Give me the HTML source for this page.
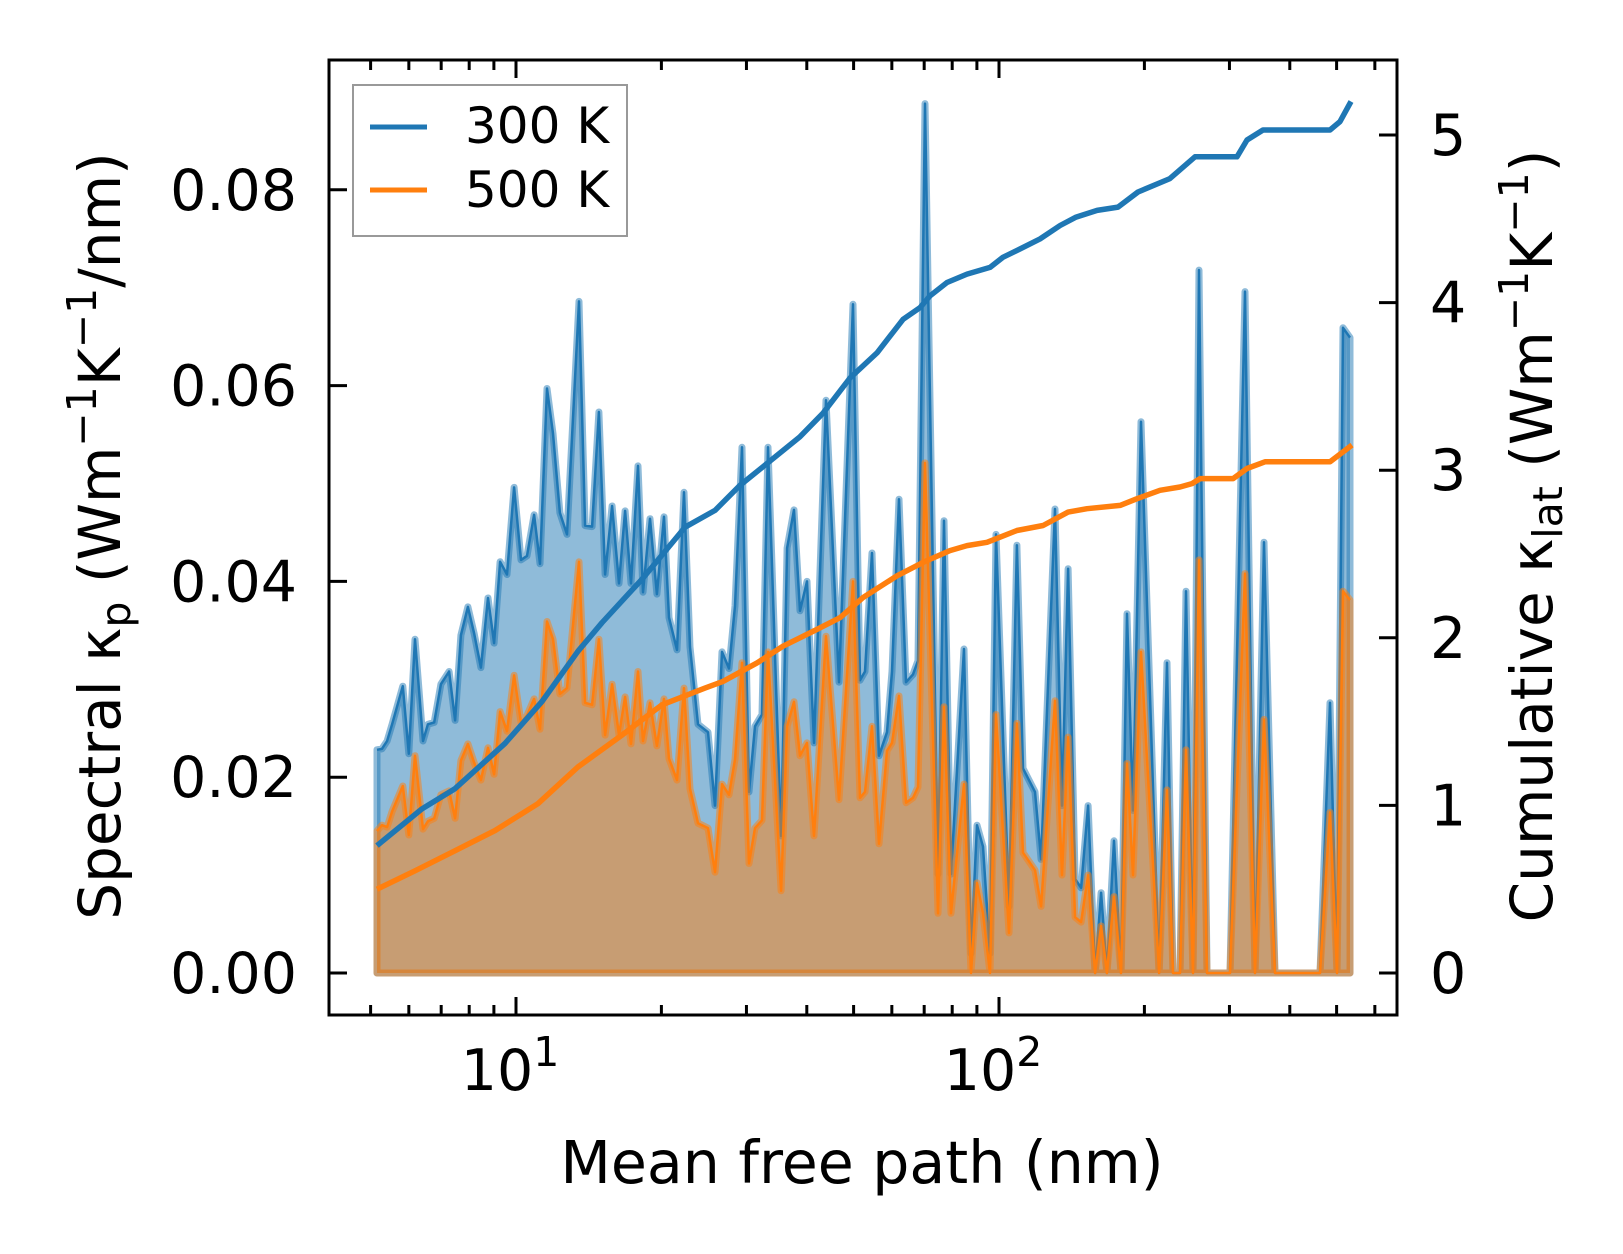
<!DOCTYPE html>
<html><head><meta charset="utf-8">
<style>
html,body{margin:0;padding:0;background:#fff;}
svg{display:block;font-family:"DejaVu Sans","Liberation Sans",sans-serif;}
</style></head>
<body>
<svg id="chart" width="1623" height="1254" viewBox="0 0 1623 1254" xmlns="http://www.w3.org/2000/svg">
<defs><clipPath id="clip"><rect x="329" y="60" width="1068" height="955"/></clipPath></defs>
<rect x="0" y="0" width="1623" height="1254" fill="#fff"/>
<g id="marks" clip-path="url(#clip)"></g>
<g id="axes"></g>
</svg>
<script>
// ---- data ----
const mfp = [5.155,5.28,5.41,5.54,5.83,6.00,6.18,6.42,6.57,6.77,6.99,7.27,7.48,7.69,7.95,8.19,8.46,8.75,9.01,9.27,9.58,9.91,10.24,10.54,10.90,11.21,11.59,11.93,12.33,12.75,13.50,13.90,14.37,14.85,15.29,15.81,16.34,16.82,17.30,17.89,18.32,18.94,19.58,20.25,20.74,21.54,22.28,22.92,23.81,24.97,25.82,26.70,27.61,28.41,29.37,30.37,31.25,32.31,33.25,35.38,36.41,37.64,38.73,40.04,41.40,43.84,46.64,49.86,51.55,52.79,54.59,56.44,58.64,60.04,62.09,64.19,66.37,67.98,70.29,74.77,76.93,79.54,84.62,87.50,90.04,92.67,95.81,98.58,104.9,108.9,112.1,118.7,122.2,130.6,135.0,139.0,143.7,147.9,152.9,158.1,162.7,167.3,173.0,178.9,184.1,189.4,196.8,214.5,222.8,229.2,237.0,243.9,252.2,259.5,269.6,300.8,323.1,338.8,353.7,372.8,461.9,484.5,500.9,515.5,533.0];
const spec300 = [.0228,.0229,.0237,.0254,.0293,.0224,.0341,.0237,.0254,.0256,.0295,.0308,.0258,.0345,.0374,.0347,.0312,.0383,.0337,.0420,.0407,.0496,.0422,.0426,.0468,.0418,.0597,.0551,.0470,.0448,.0686,.0457,.0456,.0573,.0407,.0477,.0398,.0472,.0398,.0518,.0389,.0464,.0387,.0466,.0363,.0330,.0491,.0333,.0254,.0246,.0171,.0328,.0311,.0375,.0537,.0185,.0252,.0264,.0537,.0140,.0434,.0473,.0370,.0400,.0235,.0585,.0297,.0683,.0299,.0308,.0429,.0222,.0246,.0308,.0484,.0297,.0305,.0319,.0888,.0101,.0462,.0101,.0331,.002,.0151,.0129,.002,.0448,.0068,.0437,.0209,.0185,.0116,.0474,.0171,.0413,.0096,.0087,.0171,0,.0082,0,.0135,0,.0367,.0166,.0563,0,.0317,0,0,.0390,0,.0718,0,0,.0696,0,.0440,0,0,.0276,0,.0659,.0649];
const spec500 = [.0145,.0151,.0149,.0165,.0191,.0141,.0222,.0147,.0155,.0158,.0182,.0186,.0158,.0217,.0234,.0215,.0197,.0230,.0203,.0267,.0247,.0304,.0256,.0263,.0280,.0249,.0359,.0341,.0285,.0291,.0420,.0276,.0274,.0341,.0243,.0295,.0243,.0282,.0234,.0308,.0237,.0276,.0232,.0280,.0219,.0197,.0291,.0188,.0153,.0148,.0103,.0193,.0182,.0218,.0317,.0112,.0148,.0156,.0328,.0084,.0252,.0277,.0222,.0235,.0140,.0344,.0177,.0400,.0179,.0185,.0252,.0132,.0227,.0235,.0283,.0174,.0179,.0190,.0521,.0061,.0272,.0061,.0193,0,.0092,.0061,0,.0264,.0041,.0255,.0123,.0105,.0068,.0278,.0100,.0241,.0057,.0052,.0100,0,.0048,0,.0078,0,.0214,.0100,.0328,0,.0187,0,0,.0228,0,.0422,0,0,.0408,0,.0259,0,0,.0164,0,.0390,.0381];
const cumMfp300 = [5.155,6.39,7.48,9.49,11.32,13.44,15.07,18.24,22.38,25.82,29.09,33.09,38.73,43.21,49.15,55.90,63.27,68.63,71.96,78.04,85.85,95.81,101.9,110.5,121.6,133.8,144.4,159.6,176.4,194.0,225.9,254.6,311.0,326.2,352.0,484.5,508.2,535.6];
const cum300 = [.76,.98,1.10,1.37,1.62,1.92,2.09,2.35,2.66,2.76,2.91,3.04,3.20,3.34,3.55,3.70,3.90,3.97,4.04,4.12,4.17,4.21,4.27,4.32,4.38,4.46,4.51,4.55,4.57,4.66,4.74,4.87,4.87,4.97,5.03,5.03,5.08,5.20];
const cumMfp500 = [5.155,6.18,7.48,9.05,11.10,13.44,16.58,20.06,24.62,26.83,31.55,35.71,42.00,46.86,52.29,61.50,69.60,79.14,85.85,94.45,100.5,108.9,123.4,139.0,152.1,178.1,193.1,215.4,237.0,250.9,260.8,305.2,326.2,355.4,484.5,538.2];
const cum500 = [.50,.61,.73,.85,1.01,1.23,1.42,1.60,1.70,1.74,1.85,1.95,2.05,2.12,2.24,2.37,2.45,2.52,2.55,2.57,2.60,2.64,2.67,2.75,2.77,2.79,2.83,2.88,2.90,2.92,2.95,2.95,3.01,3.05,3.05,3.15];
const leftTicks = [0,0.02,0.04,0.06,0.08];
const leftTickLabels = ["0.00","0.02","0.04","0.06","0.08"];
const rightTicks = [0,1,2,3,4,5];
const rightTickLabels = ["0","1","2","3","4","5"];
const xMajor = [10,100];
const xMajorExp = ["1","2"];
const xMinor = [5,6,7,8,9,20,30,40,50,60,70,80,90,200,300,400,500,600];

// ---- axis functions ----
const X0=329,X1=1397,Y0=60,Y1=1015;
function xs(m){return 516+(Math.log10(m)-1)*483;}
function yl(v){return 973-v*9790;}
function yr(v){return 973-v*167.6;}

const NS="http://www.w3.org/2000/svg";
function mk(tag,attrs,parent){const e=document.createElementNS(NS,tag);for(const k in attrs)e.setAttribute(k,attrs[k]);parent.appendChild(e);return e;}
const marks=document.getElementById('marks');
const axes=document.getElementById('axes');

function linePath(xa,ya,fx,fy){return xa.map((m,i)=>(i?'L':'M')+fx(m).toFixed(1)+','+fy(ya[i]).toFixed(1)).join(' ');}
function areaPath(xa,ya){
  let d=linePath(xa,ya,xs,yl);
  d+=' L'+xs(xa[xa.length-1]).toFixed(1)+','+yl(0)+' L'+xs(xa[0]).toFixed(1)+','+yl(0)+' Z';
  return d;
}
function drawSpectral(vals,color,name){
  const a=mk('path',{d:areaPath(mfp,vals),fill:color,'fill-opacity':0.5,stroke:color,'stroke-opacity':0.5,'stroke-width':7,'stroke-linejoin':'round'},marks);
  
  
  const l=mk('path',{d:linePath(mfp,vals,xs,yl),fill:'none',stroke:color,'stroke-width':2.5,'stroke-linejoin':'round'},marks);
  
  
}
drawSpectral(spec300,'#1f77b4','spectral-300k');
drawSpectral(spec500,'#ff7f0e','spectral-500k');
const c1=mk('path',{d:linePath(cumMfp300,cum300,xs,yr),fill:'none',stroke:'#1f77b4','stroke-width':5.5,'stroke-linejoin':'round'},marks);


const c2=mk('path',{d:linePath(cumMfp500,cum500,xs,yr),fill:'none',stroke:'#ff7f0e','stroke-width':5.5,'stroke-linejoin':'round'},marks);



// ---- ticks ----
const tk={stroke:'#000','stroke-width':3};
xMajor.forEach((m,i)=>{
  const x=xs(m);
  mk('line',Object.assign({x1:x,y1:Y1,x2:x,y2:Y1-18},tk),axes);
  mk('line',Object.assign({x1:x,y1:Y0,x2:x,y2:Y0+18},tk),axes);
  const t=mk('text',{x:x-6,y:1090,'font-size':57,'text-anchor':'middle',fill:'#000'},axes);
  
  
  t.textContent='10';
  const s=mk('tspan',{dy:-24,'font-size':41},t);s.textContent=xMajorExp[i];
});
xMinor.forEach(m=>{
  const x=xs(m);
  mk('line',Object.assign({x1:x,y1:Y1,x2:x,y2:Y1-10},tk),axes);
  mk('line',Object.assign({x1:x,y1:Y0,x2:x,y2:Y0+10},tk),axes);
});
leftTicks.forEach((v,i)=>{
  const y=yl(v);
  mk('line',Object.assign({x1:X0,y1:y,x2:X0+18,y2:y},tk),axes);
  const t=mk('text',{x:297,y:y+20,'font-size':57,'text-anchor':'end',fill:'#000'},axes);
  
  
  t.textContent=leftTickLabels[i];
});
rightTicks.forEach((v,i)=>{
  const y=yr(v);
  mk('line',Object.assign({x1:X1,y1:y,x2:X1-18,y2:y},tk),axes);
  const t=mk('text',{x:1430,y:y+20,'font-size':57,'text-anchor':'start',fill:'#000'},axes);
  
  
  t.textContent=rightTickLabels[i];
});
const frame=mk('rect',{x:X0,y:Y0,width:X1-X0,height:Y1-Y0,fill:'none',stroke:'#000','stroke-width':3},axes);


</script>
<svg style="position:absolute;left:0;top:0" width="1623" height="1254" viewBox="0 0 1623 1254" xmlns="http://www.w3.org/2000/svg" font-family="DejaVu Sans, Liberation Sans, sans-serif">
  <text x="862" y="1183" font-size="58.5" text-anchor="middle">Mean free path (nm)</text>
  <text transform="translate(120,536) rotate(-90)" font-size="58" text-anchor="middle">Spectral κ<tspan font-size="41" dy="10">p</tspan><tspan dy="-10"> (Wm</tspan><tspan font-size="41" dy="-24">−1</tspan><tspan dy="24">K</tspan><tspan font-size="41" dy="-24">−1</tspan><tspan dy="24">/nm)</tspan></text>
  <text transform="translate(1552,536) rotate(-90)" font-size="58" text-anchor="middle">Cumulative κ<tspan font-size="41" dy="10">lat</tspan><tspan dy="-10"> (Wm</tspan><tspan font-size="41" dy="-24">−1</tspan><tspan dy="24">K</tspan><tspan font-size="41" dy="-24">−1</tspan><tspan dy="24">)</tspan></text>
  <g>
    <rect x="353" y="85" width="274" height="151" fill="#fff" fill-opacity="0.8" stroke="#999" stroke-width="2"/>
    <line x1="370" y1="127" x2="427" y2="127" stroke="#1f77b4" stroke-width="5"/>
    <text x="465" y="143" font-size="50">300 K</text>
    <line x1="370" y1="190" x2="427" y2="190" stroke="#ff7f0e" stroke-width="5"/>
    <text x="465" y="207" font-size="50">500 K</text>
  </g>
</svg>
</body></html>
